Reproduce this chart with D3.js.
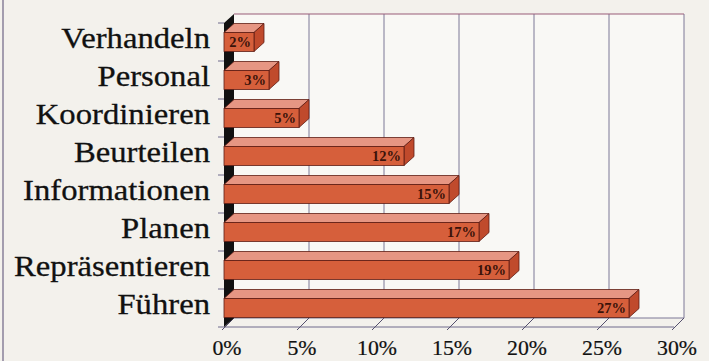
<!DOCTYPE html>
<html>
<head>
<meta charset="utf-8">
<script src="https://cdn.jsdelivr.net/npm/d3@7"></script>
<style>
  html, body { margin: 0; padding: 0; background: #f3f1ec; }
  svg { display: block; }
</style>
</head>
<body>
<div id="chart"></div>
<script>
const categories = ["Verhandeln", "Personal", "Koordinieren", "Beurteilen",
    "Informationen", "Planen", "Repräsentieren", "Führen"];
const values = [2, 3, 5, 12, 15, 17, 19, 27];
const ticks = [0, 5, 10, 15, 20, 25, 30];

const width = 709, height = 361;
const depth = { dx: 10, dy: -9 };
const serif = "'Liberation Serif', 'Times New Roman', serif";

const svg = d3.select("#chart").append("svg")
    .attr("width", width)
    .attr("height", height);

const x = d3.scaleLinear().domain([0, 30]).range([224, 674]);
const y = d3.scaleBand().domain(categories).range([23, 327])
    .paddingInner(0.5).paddingOuter(0.25);

const top0 = 23, bottom0 = 327;

// scan border at the left
svg.append("line")
    .attr("x1", 3).attr("x2", 3).attr("y1", 0).attr("y2", height)
    .attr("stroke", "#6e6585").attr("stroke-width", 1.2);

// back wall
svg.append("rect")
    .attr("x", x(0) + depth.dx)
    .attr("y", top0 + depth.dy)
    .attr("width", x(30) - x(0))
    .attr("height", bottom0 - top0)
    .attr("fill", "#f9f8f5");

// grid lines on back wall
svg.append("g").selectAll("line")
    .data(ticks.slice(1))
    .join("line")
    .attr("x1", d => x(d) + depth.dx)
    .attr("x2", d => x(d) + depth.dx)
    .attr("y1", top0 + depth.dy)
    .attr("y2", bottom0 + depth.dy)
    .attr("stroke", "#7d7896")
    .attr("stroke-width", 1);

svg.append("line")
    .attr("x1", x(0) + depth.dx).attr("x2", x(30) + depth.dx)
    .attr("y1", top0 + depth.dy).attr("y2", top0 + depth.dy)
    .attr("stroke", "#9a5c78").attr("stroke-width", 1.2);

// floor
svg.append("line")
    .attr("x1", x(0) + depth.dx).attr("x2", x(30) + depth.dx)
    .attr("y1", bottom0 + depth.dy).attr("y2", bottom0 + depth.dy)
    .attr("stroke", "#7d7896");
svg.append("line")
    .attr("x1", x(0)).attr("x2", x(30))
    .attr("y1", bottom0).attr("y2", bottom0)
    .attr("stroke", "#6f6a8c");
svg.append("g").selectAll("line")
    .data(ticks)
    .join("line")
    .attr("x1", d => x(d) - 2)
    .attr("y1", bottom0 + 3)
    .attr("x2", d => x(d) + depth.dx)
    .attr("y2", bottom0 + depth.dy)
    .attr("stroke", "#55506e");

// left wall (dark)
svg.append("path")
    .attr("d", `M${x(0)},${top0} L${x(0) + depth.dx},${top0 + depth.dy} L${x(0) + depth.dx},${bottom0 + depth.dy} L${x(0)},${bottom0} Z`)
    .attr("fill", "#111");

// left ticks at band edges
const edges = d3.range(categories.length + 1).map(i => top0 + i * y.step());
svg.append("g").selectAll("line")
    .data(edges)
    .join("line")
    .attr("x1", x(0) - 6).attr("x2", x(0))
    .attr("y1", d => d).attr("y2", d => d)
    .attr("stroke", "#6f6a8c");

// bars
const data = categories.map((c, i) => ({ cat: c, v: values[i] }));
const bars = svg.append("g").selectAll("g")
    .data(data)
    .join("g");

const outline = "#5e1d14";
bars.append("path")
    .attr("d", d => {
        const x0 = x(0), x1 = x(d.v), t = y(d.cat);
        return `M${x0},${t} L${x1},${t} L${x1 + depth.dx},${t + depth.dy} L${x0 + depth.dx},${t + depth.dy} Z`;
    })
    .attr("fill", "#e69683")
    .attr("stroke", outline).attr("stroke-width", 0.8);
bars.append("path")
    .attr("d", d => {
        const x1 = x(d.v), t = y(d.cat), b = t + y.bandwidth();
        return `M${x1},${t} L${x1 + depth.dx},${t + depth.dy} L${x1 + depth.dx},${b + depth.dy} L${x1},${b} Z`;
    })
    .attr("fill", "#c04a2c")
    .attr("stroke", outline).attr("stroke-width", 0.8);
bars.append("rect")
    .attr("x", x(0))
    .attr("y", d => y(d.cat))
    .attr("width", d => x(d.v) - x(0))
    .attr("height", y.bandwidth())
    .attr("fill", "#d65f3b")
    .attr("stroke", outline).attr("stroke-width", 0.8);

bars.append("text")
    .attr("x", d => x(d.v) - 3)
    .attr("y", d => y(d.cat) + y.bandwidth() - 5)
    .attr("text-anchor", "end")
    .attr("font-family", serif)
    .attr("font-weight", "bold")
    .attr("font-size", 14.5)
    .attr("fill", "#3a1209")
    .text(d => d.v + "%");

// category labels
svg.append("g").selectAll("text")
    .data(categories)
    .join("text")
    .attr("transform", d => `translate(210,${y(d) + y.bandwidth() / 2 + 6}) scale(1.09,1)`)
    .attr("text-anchor", "end")
    .attr("font-family", serif)
    .attr("font-size", 30)
    .attr("fill", "#111")
    .attr("stroke", "#111").attr("stroke-width", 0.3)
    .text(d => d);

// x tick labels
svg.append("g").selectAll("text")
    .data(ticks)
    .join("text")
    .attr("transform", d => `translate(${x(d) + 3},355) scale(1.09,1)`)
    .attr("text-anchor", "middle")
    .attr("font-family", serif)
    .attr("font-size", 20)
    .attr("fill", "#111")
    .attr("stroke", "#111").attr("stroke-width", 0.2)
    .text(d => d + "%");
</script>
</body>
</html>
